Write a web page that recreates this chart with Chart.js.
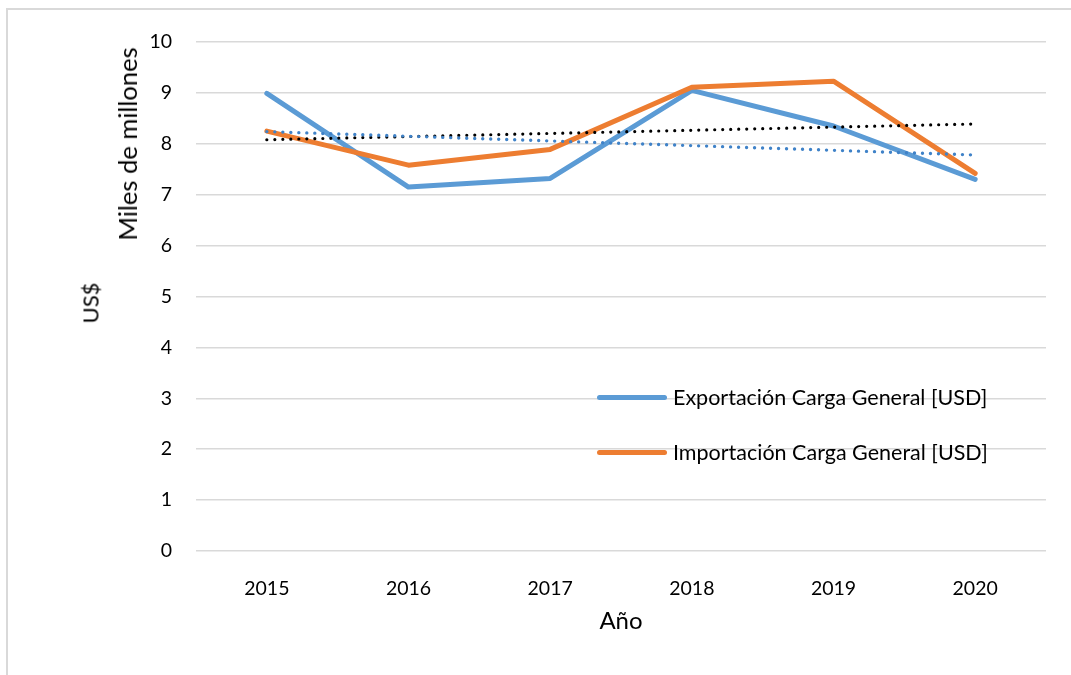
<!DOCTYPE html>
<html>
<head>
<meta charset="utf-8">
<script src="https://cdn.jsdelivr.net/npm/chart.js@4"></script>
<style>
  html, body { margin: 0; padding: 0; background: #fff; }
  body { width: 1071px; height: 675px; overflow: hidden; position: relative; font-family: Lato, "Open Sans", sans-serif; color: #000; }
  #frame { position: absolute; left: 6px; top: 8px; width: 1200px; height: 800px; border: 2px solid #d9d9d9; box-sizing: border-box; }
  #cut-title { position: absolute; left: 104px; top: 0; height: 4px; width: 700px; overflow: hidden; }
  #cut-title span { position: absolute; top: -28px; left: 0; font: bold 22px Lato, sans-serif; white-space: nowrap; }
  #wrap { position: absolute; left: 0; top: 0; width: 1071px; height: 675px; }
  .vtitle { position: absolute; transform: translate(-50%, -50%) rotate(-90deg); white-space: nowrap; }
  .legend { position: absolute; left: 597px; font-size: 21.5px; white-space: nowrap; display: flex; align-items: center; }
  .legend i { display: inline-block; width: 70px; height: 5px; border-radius: 3px; margin-right: 6px; }
</style>
</head>
<body>
<div id="frame"></div>
<div id="cut-title"><span>Figura 12. Valor de la Carga General Comercializada (USD)</span></div>
<div id="wrap"><canvas id="chart" width="1071" height="675"></canvas></div>
<div class="vtitle" style="left:127px; top:144px; font-size:25.5px">Miles de millones</div>
<div class="vtitle" style="left:90px; top:303px; font-size:22px">US$</div>
<div class="legend" style="top:384px"><i style="background:#5B9BD5"></i>Exportación Carga General [USD]</div>
<div class="legend" style="top:439px"><i style="background:#ED7D31"></i>Importación Carga General [USD]</div>
<script>
// values (thousands of millions of USD)
const years = ['2015', '2016', '2017', '2018', '2019', '2020'];
const exportacion = [8.99, 7.15, 7.32, 9.05, 8.35, 7.30];
const importacion = [8.25, 7.58, 7.89, 9.11, 9.23, 7.42];
// linear trend lines, only the end points as drawn in the picture
const tendenciaExp = [8.24, null, null, null, null, 7.78];
const tendenciaImp = [8.08, null, null, null, null, 8.39];
const yTicks = [0, 1, 2, 3, 4, 5, 6, 7, 8, 9, 10];

const ctx = document.getElementById('chart').getContext('2d');
new Chart(ctx, {
    type: 'line',
    data: {
        labels: years,
        datasets: [
            {
                label: 'Tendencia Exportación',
                data: tendenciaExp,
                borderColor: '#3F82C8',
                borderWidth: 3.4,
                borderDash: [0, 8],
                borderCapStyle: 'round',
                spanGaps: true,
                pointRadius: 0,
                order: 0
            },
            {
                label: 'Tendencia Importación',
                data: tendenciaImp,
                borderColor: '#000000',
                borderWidth: 3.2,
                borderDash: [0, 8],
                borderCapStyle: 'round',
                spanGaps: true,
                pointRadius: 0,
                order: 0
            },
            {
                label: 'Importación Carga General [USD]',
                data: importacion,
                borderColor: '#ED7D31',
                borderWidth: 5,
                borderCapStyle: 'round',
                borderJoinStyle: 'round',
                pointRadius: 0,
                tension: 0,
                order: 1
            },
            {
                label: 'Exportación Carga General [USD]',
                data: exportacion,
                borderColor: '#5B9BD5',
                borderWidth: 5,
                borderCapStyle: 'round',
                borderJoinStyle: 'round',
                pointRadius: 0,
                tension: 0,
                order: 2
            }
        ]
    },
    options: {
        responsive: false,
        animation: false,
        layout: { padding: { top: 42, right: 25, left: 0, bottom: 0 } },
        plugins: {
            legend: { display: false },
            tooltip: { enabled: false }
        },
        scales: {
            x: {
                offset: true,
                grid: { display: false },
                border: { display: false },
                ticks: { color: '#000', font: { family: 'Lato', size: 19.5 }, padding: 18 },
                title: {
                    display: true,
                    text: 'Año',
                    color: '#000',
                    font: { family: 'Lato', size: 24 },
                    padding: { top: 4, bottom: 39 }
                },
                afterFit: (scale) => { scale.height = 124; }
            },
            y: {
                min: 0,
                max: 10,
                afterBuildTicks: (scale) => { scale.ticks = yTicks.map(v => ({ value: v })); },
                grid: { color: '#d9d9d9', lineWidth: 1.5, drawTicks: false },
                border: { display: false },
                ticks: { color: '#000', font: { family: 'Lato', size: 19.5 }, padding: 24 },
                afterFit: (scale) => { scale.width = 196; }
            }
        }
    }
});
</script>
</body>
</html>
